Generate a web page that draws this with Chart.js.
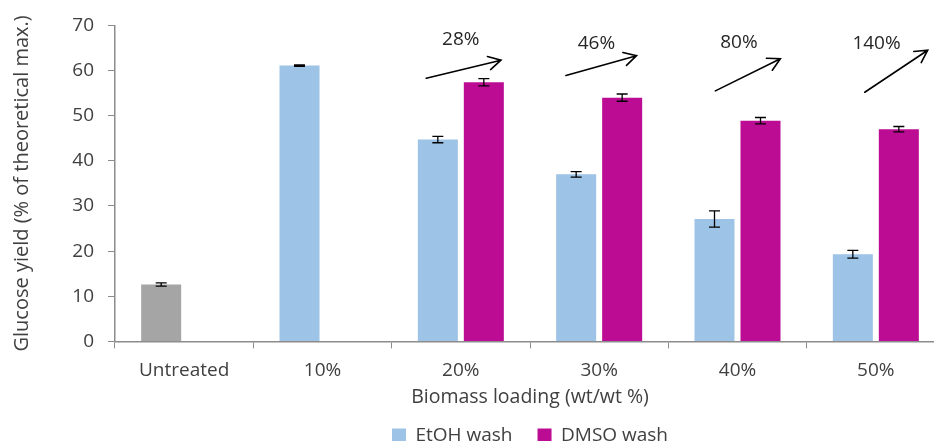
<!DOCTYPE html>
<html>
<head>
<meta charset="utf-8">
<script src="https://cdn.jsdelivr.net/npm/chart.js@4"></script>
<style>
  body { margin: 0; overflow: hidden; background: #fff; }
  #wrap { width: 946px; height: 455px; }
</style>
</head>
<body>
<div id="wrap"><canvas id="chart"></canvas></div>
<script>
const categories = ["Untreated", "10%", "20%", "30%", "40%", "50%"];
const etoh = [12.6, 61.1, 44.7, 37.0, 27.1, 19.3];
const etohErr = [0.35, 0.15, 0.7, 0.6, 1.8, 0.85];
const dmso = [null, null, 57.4, 54.0, 48.9, 47.0];
const dmsoErr = [null, null, 0.8, 0.8, 0.7, 0.6];
const yTicks = [0, 10, 20, 30, 40, 50, 60, 70];

// increase labels, drawn above groups 20%..50%
const arrowLabels = ["28%", "46%", "80%", "140%"];
const arrowCats = [2, 3, 4, 5];
// [dx in category widths, y in data units]
const ARROWS = [
  { tail: [-0.25, 58.3], head: [0.29, 62.3], label: [0.0, 66.9] },
  { tail: [-0.24, 58.9], head: [0.27, 63.3], label: [-0.02, 66.0] },
  { tail: [-0.16, 55.5], head: [0.31, 62.6], label: [0.01, 66.3] },
  { tail: [-0.08, 55.2], head: [0.375, 64.5], label: [0.005, 65.9] },
];

const GRAY = "#a5a5a5";
const BLUE = "#9dc3e6";
const MAGENTA = "#bc0c93";
const TEXT = "#404040";
const AXIS = "#8c8c8c";
const FONT = "'Open Sans', sans-serif";

const errorBars = {
  id: "errorBars",
  afterDatasetsDraw(chart) {
    const { ctx, scales: { y } } = chart;
    const errs = [etohErr, dmsoErr];
    ctx.save();
    ctx.strokeStyle = "#000";
    ctx.lineWidth = 1.3;
    chart.data.datasets.forEach((ds, i) => {
      const meta = chart.getDatasetMeta(i);
      meta.data.forEach((bar, j) => {
        const v = ds.data[j];
        const e = errs[i][j];
        if (v == null || e == null) return;
        const top = y.getPixelForValue(v + e);
        const bot = y.getPixelForValue(v - e);
        const x = bar.x;
        ctx.beginPath();
        ctx.moveTo(x, top); ctx.lineTo(x, bot);
        ctx.moveTo(x - 5.5, top); ctx.lineTo(x + 5.5, top);
        ctx.moveTo(x - 5.5, bot); ctx.lineTo(x + 5.5, bot);
        ctx.stroke();
      });
    });
    ctx.restore();
  }
};

const arrows = {
  id: "arrows",
  afterDraw(chart) {
    const { ctx, scales: { x, y } } = chart;
    const cw = x.width / categories.length;
    const px = (c, d) => x.getPixelForValue(c) + d * cw;
    ctx.save();
    ctx.strokeStyle = "#000";
    ctx.lineWidth = 1.6;
    ctx.lineCap = "round";
    ARROWS.forEach((a, i) => {
      const c = arrowCats[i];
      const x1 = px(c, a.tail[0]), y1 = y.getPixelForValue(a.tail[1]);
      const x2 = px(c, a.head[0]), y2 = y.getPixelForValue(a.head[1]);
      const ang = Math.atan2(y2 - y1, x2 - x1);
      const hl = 14, spread = 0.5;
      ctx.beginPath();
      ctx.moveTo(x1, y1); ctx.lineTo(x2, y2);
      ctx.moveTo(x2 - hl * Math.cos(ang - spread), y2 - hl * Math.sin(ang - spread));
      ctx.lineTo(x2, y2);
      ctx.lineTo(x2 - hl * Math.cos(ang + spread), y2 - hl * Math.sin(ang + spread));
      ctx.stroke();
      ctx.fillStyle = "#262626";
      ctx.font = "19px " + FONT;
      ctx.textAlign = "center";
      ctx.textBaseline = "middle";
      ctx.fillText(arrowLabels[i], px(c, a.label[0]), y.getPixelForValue(a.label[1]));
    });
    ctx.restore();
  }
};

const legendColors = [BLUE, MAGENTA];

new Chart(document.getElementById("chart"), {
  type: "bar",
  data: {
    labels: categories,
    datasets: [
      {
        label: "EtOH wash",
        data: etoh,
        backgroundColor: (c) => (c.type === "data" && c.dataIndex === 0 ? GRAY : BLUE),
        categoryPercentage: 0.665,
        barPercentage: 0.87,
      },
      {
        label: "DMSO wash",
        data: dmso,
        backgroundColor: MAGENTA,
        categoryPercentage: 0.665,
        barPercentage: 0.87,
      },
    ],
  },
  options: {
    responsive: true,
    maintainAspectRatio: false,
    animation: false,
    layout: { padding: { left: 0, right: 1, top: 13, bottom: 0 } },
    plugins: {
      tooltip: { enabled: false },
      legend: {
        position: "bottom",
        fullSize: false,
        labels: {
          boxWidth: 14,
          boxHeight: 14,
          padding: 25,
          color: TEXT,
          font: { family: FONT, size: 19 },
          generateLabels(chart) {
            const items = Chart.defaults.plugins.legend.labels.generateLabels(chart);
            items.forEach((it, i) => {
              it.fillStyle = legendColors[i];
              it.strokeStyle = legendColors[i];
              it.lineWidth = 0;
            });
            return items;
          },
        },
      },
    },
    scales: {
      x: {
        grid: { display: true, drawOnChartArea: false, tickLength: 7, color: AXIS, lineWidth: 1 },
        border: { color: AXIS, width: 1.5 },
        ticks: { color: TEXT, padding: 11, font: { family: FONT, size: 19 } },
        title: {
          display: true,
          text: "Biomass loading (wt/wt %)",
          color: TEXT,
          font: { family: FONT, size: 19.5 },
          padding: { top: 0, bottom: -8 },
        },
        afterFit(scale) { scale.height = 59.6; },
      },
      y: {
        min: 0,
        max: 70,
        afterBuildTicks(scale) { scale.ticks = yTicks.map((v) => ({ value: v })); },
        grid: { display: true, drawOnChartArea: false, tickLength: 7, color: AXIS },
        border: { color: AXIS, width: 1.5 },
        ticks: { color: TEXT, padding: 14, font: { family: FONT, size: 19 } },
        title: {
          display: true,
          text: "Glucose yield (% of theoretical max.)",
          color: TEXT,
          font: { family: FONT, size: 20 },
          padding: { top: 10, bottom: 0 },
        },
        afterFit(scale) { scale.width = 115; },
      },
    },
  },
  plugins: [errorBars, arrows],
});
</script>
</body>
</html>
